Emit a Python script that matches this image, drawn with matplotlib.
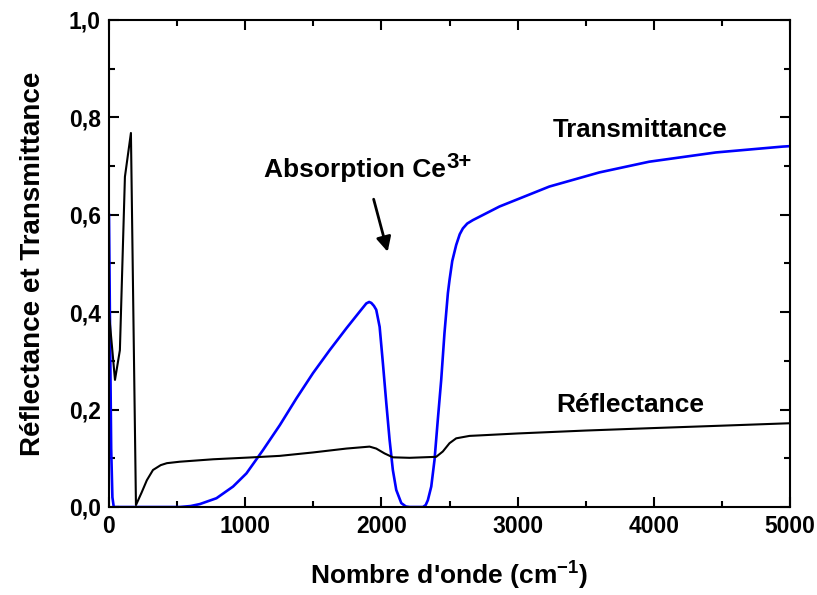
import matplotlib

matplotlib.use("Agg")
import matplotlib.pyplot as plt
from matplotlib.ticker import FuncFormatter, MultipleLocator

# Reflectance (black curve)
refl_x = [0, 44, 80, 117, 161, 198, 240, 278, 323, 380, 425, 520, 765, 1058, 1254,
          1498, 1743, 1913, 1962, 2023, 2084, 2207, 2402, 2451, 2500, 2549, 2647,
          2720, 3000, 3500, 3990, 4500, 5000]
refl_y = [0.398, 0.261, 0.322, 0.678, 0.768, 0.004, 0.03, 0.055, 0.076, 0.086, 0.09,
          0.093, 0.098, 0.102, 0.105, 0.112, 0.120, 0.124, 0.120, 0.110, 0.102, 0.101,
          0.103, 0.114, 0.131, 0.141, 0.146, 0.147, 0.151, 0.157, 0.162, 0.167, 0.172]

# Transmittance (blue curve)
trans_x = [0, 8, 16, 25, 35, 520, 600, 667, 789, 911, 1009, 1131, 1254, 1376, 1498,
           1620, 1743, 1840, 1889, 1910, 1926, 1945, 1962, 1987, 2011, 2036, 2060,
           2084, 2109, 2146, 2180, 2207, 2305, 2325, 2341, 2366, 2390, 2414, 2439,
           2463, 2488, 2500, 2520, 2549, 2575, 2598, 2630, 2671, 2867, 3233, 3600,
           3966, 4455, 4944, 5000]
trans_y = [0.60, 0.35, 0.12, 0.02, 0.0, 0.0, 0.002, 0.006, 0.018, 0.042, 0.069, 0.117,
           0.168, 0.223, 0.275, 0.322, 0.367, 0.401, 0.418, 0.421, 0.419, 0.413, 0.405,
           0.370, 0.295, 0.213, 0.138, 0.076, 0.035, 0.008, 0.001, 0.0, 0.0, 0.004,
           0.014, 0.042, 0.097, 0.179, 0.261, 0.357, 0.439, 0.466, 0.505, 0.538, 0.560,
           0.572, 0.582, 0.589, 0.617, 0.658, 0.687, 0.709, 0.728, 0.740, 0.741]

plt.rcParams["font.family"] = ["Liberation Sans", "DejaVu Sans"]
plt.rcParams["font.weight"] = "bold"
plt.rcParams["mathtext.fontset"] = "custom"
plt.rcParams["mathtext.rm"] = "Liberation Sans:bold"
plt.rcParams["mathtext.bf"] = "Liberation Sans:bold"

fig = plt.figure(figsize=(8.17, 5.95), dpi=100)
ax = fig.add_axes([0.1334, 0.1479, 0.8336, 0.8185])

ax.plot(trans_x, trans_y, color="#0000ff", linewidth=1.9)
ax.plot(refl_x, refl_y, color="black", linewidth=1.5)

ax.set_xlim(0, 5000)
ax.set_ylim(0, 1.0)
ax.xaxis.set_major_locator(MultipleLocator(1000))
ax.xaxis.set_minor_locator(MultipleLocator(500))
ax.yaxis.set_major_locator(MultipleLocator(0.2))
ax.yaxis.set_minor_locator(MultipleLocator(0.1))
ax.yaxis.set_major_formatter(FuncFormatter(lambda v, p: f"{v:.1f}".replace(".", ",")))
ax.tick_params(which="both", direction="in", top=True, right=True, width=1.5,
               labelsize=16.5, pad=6)
ax.tick_params(which="major", length=7)
ax.tick_params(which="minor", length=4)
for lbl in ax.get_xticklabels() + ax.get_yticklabels():
    lbl.set_fontweight("bold")
for spine in ax.spines.values():
    spine.set_linewidth(1.5)

ax.set_xlabel(r"Nombre d'onde (cm$^{-1}$)", fontsize=19, fontweight="bold", labelpad=14)
ax.set_ylabel("Réflectance et Transmittance", fontsize=20, fontweight="bold", labelpad=16)

ax.text(3900, 0.774, "Transmittance", fontsize=18.5, fontweight="bold",
        ha="center", va="center")
ax.text(3827, 0.209, "Réflectance", fontsize=19, fontweight="bold",
        ha="center", va="center")
absorb = ax.text(1140, 0.692, "Absorption Ce", fontsize=19, fontweight="bold",
                 ha="left", va="center")
ax.annotate("3+", xy=(1, 1), xycoords=absorb, xytext=(0.5, 4),
            textcoords="offset points", fontsize=16, fontweight="bold",
            ha="left", va="top")
ax.annotate("", xy=(2046, 0.524), xytext=(1943, 0.632),
            arrowprops=dict(arrowstyle="-|>", color="black", linewidth=2,
                            mutation_scale=22, shrinkA=0, shrinkB=0))

fig.savefig("out.png", dpi=100)
plt.close(fig)
